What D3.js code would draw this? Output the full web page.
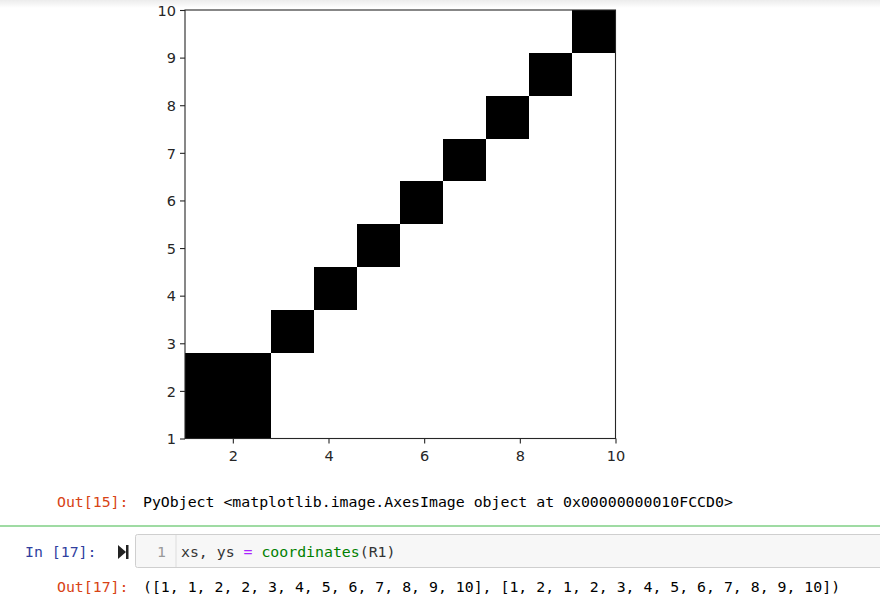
<!DOCTYPE html>
<html>
<head>
<meta charset="utf-8">
<script src="https://cdn.jsdelivr.net/npm/d3@7"></script>
<style>
  html, body { margin: 0; padding: 0; background: #fff; }
  svg { display: block; }
</style>
</head>
<body>
<svg id="c" width="880" height="604"></svg>
<script>
// ---- data ----
const xs = [1, 1, 2, 2, 3, 4, 5, 6, 7, 8, 9, 10];
const ys = [1, 2, 1, 2, 3, 4, 5, 6, 7, 8, 9, 10];
const gridSize = 10;
const extent = [1, 10];
const xTicks = [2, 4, 6, 8, 10];
const yTicks = [1, 2, 3, 4, 5, 6, 7, 8, 9, 10];
const out15Text = "PyObject <matplotlib.image.AxesImage object at 0x00000000010FCCD0>";
const codeParts = [["xs, ys ", "#333"], ["=", "#AA22FF"], [" ", "#333"], ["coordinates", "#008000"], ["(R1)", "#333"]];
const out17Text = "([1, 1, 2, 2, 3, 4, 5, 6, 7, 8, 9, 10], [1, 2, 1, 2, 3, 4, 5, 6, 7, 8, 9, 10])";

const svg = d3.select("#c");
const W = 880, H = 604;

// top shadow strip
const defs = svg.append("defs");
const g0 = defs.append("linearGradient").attr("id", "topfade").attr("x1", 0).attr("y1", 0).attr("x2", 0).attr("y2", 1);
g0.append("stop").attr("offset", "0%").attr("stop-color", "#ececec");
g0.append("stop").attr("offset", "100%").attr("stop-color", "#ffffff");
svg.append("rect").attr("x", 0).attr("y", 0).attr("width", W).attr("height", 8).attr("fill", "url(#topfade)");

// ---- chart ----
const L = 185, R = 615.5, T = 10, B = 438.5;
const x = d3.scaleLinear().domain(extent).range([L, R]);
const y = d3.scaleLinear().domain(extent).range([B, T]);
const cell = (extent[1] - extent[0]) / gridSize;

const chart = svg.append("g");
chart.append("rect").attr("x", L).attr("y", T).attr("width", R - L).attr("height", B - T).attr("fill", "#fff");

const pts = xs.map((v, i) => ({ x: v, y: ys[i] }));
chart.selectAll("rect.cell").data(pts).join("rect")
  .attr("class", "cell")
  .attr("x", d => x(extent[0] + cell * (d.x - 1)))
  .attr("width", d => x(extent[0] + cell * d.x) - x(extent[0] + cell * (d.x - 1)))
  .attr("y", d => y(extent[0] + cell * d.y))
  .attr("height", d => y(extent[0] + cell * (d.y - 1)) - y(extent[0] + cell * d.y))
  .attr("fill", "#000")
  .attr("shape-rendering", "crispEdges");

// frame
chart.append("rect").attr("x", L).attr("y", T).attr("width", R - L).attr("height", B - T)
  .attr("fill", "none").attr("stroke", "#262626").attr("stroke-width", 1.1);

const xAxis = chart.append("g").attr("transform", `translate(0,${B})`)
  .call(d3.axisBottom(x).tickValues(xTicks).tickSize(5).tickPadding(4).tickFormat(d3.format("d")));
const yAxis = chart.append("g").attr("transform", `translate(${L},0)`)
  .call(d3.axisLeft(y).tickValues(yTicks).tickSize(5).tickPadding(4).tickFormat(d3.format("d")));
[xAxis, yAxis].forEach(a => {
  a.select(".domain").remove();
  a.selectAll(".tick line").attr("stroke", "#262626").attr("stroke-width", 1.1);
  a.selectAll(".tick text").attr("fill", "#262626").style("font-family", "'DejaVu Sans'").style("font-size", "14.5px");
});
xAxis.selectAll(".tick text").attr("dy", "0.93em");
yAxis.selectAll(".tick text").attr("dy", "0.36em");

// ---- notebook chrome ----
const mono = "'DejaVu Sans Mono', monospace";
const fs = "14.85px";
function txt(xp, yp, s, color) {
  return svg.append("text").attr("x", xp).attr("y", yp).attr("fill", color)
    .style("font-family", mono).style("font-size", fs).attr("xml:space", "preserve").text(s);
}
txt(57, 507, "Out[15]:", "#D84315");
txt(143, 507, out15Text, "#000");

svg.append("line").attr("x1", 0).attr("x2", W).attr("y1", 526).attr("y2", 526)
  .attr("stroke", "#7fcf85").attr("stroke-width", 1.5);

txt(25, 557, "In [17]:", "#303F9F");
// run icon
svg.append("path").attr("d", "M118,545 L126,552 L118,559 Z").attr("fill", "#222");
svg.append("rect").attr("x", 126).attr("y", 545).attr("width", 2.5).attr("height", 14).attr("fill", "#222");

// input box
svg.append("rect").attr("x", 135.5).attr("y", 534.5).attr("width", 760).attr("height", 33).attr("rx", 2)
  .attr("fill", "#f7f7f7").attr("stroke", "#cfcfcf");
svg.append("line").attr("x1", 176).attr("x2", 176).attr("y1", 535).attr("y2", 567).attr("stroke", "#dddddd");
txt(157, 557, "1", "#999");
const code = txt(181, 557, "", "#333");
codeParts.forEach(([s, c]) => code.append("tspan").attr("fill", c).text(s));

txt(57, 592, "Out[17]:", "#D84315");
txt(143, 592, out17Text, "#000");
</script>
</body>
</html>
